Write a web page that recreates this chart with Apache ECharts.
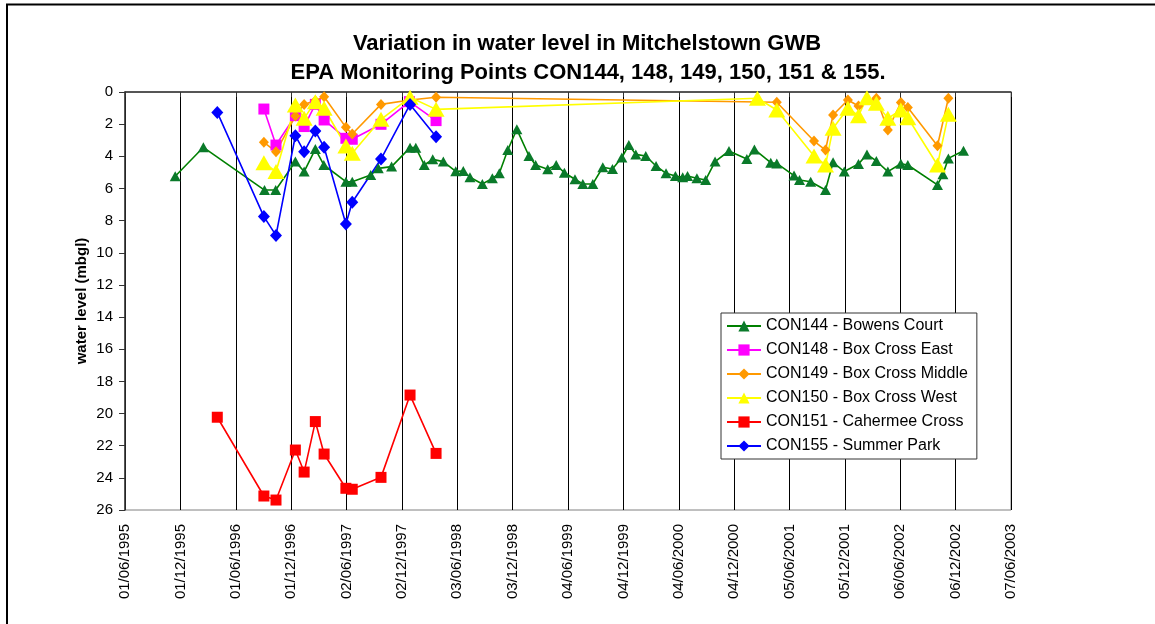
<!DOCTYPE html>
<html>
<head>
<meta charset="utf-8">
<script src="https://cdn.jsdelivr.net/npm/echarts@6/dist/echarts.min.js"></script>
<style>
html,body{margin:0;padding:0;background:#fff;}
#chart{width:1155px;height:624px;}
</style>
</head>
<body>
<div id="chart"></div>
<script>
// ---------------- DATA ----------------
const titleLines = ['Variation in water level in Mitchelstown GWB', 'EPA Monitoring Points CON144, 148, 149, 150, 151 & 155.'];
const yAxisName = 'water level (mbgl)';
const seriesNames = ['CON144 - Bowens Court', 'CON148 - Box Cross East', 'CON149 - Box Cross Middle', 'CON150 - Box Cross West', 'CON151 - Cahermee Cross', 'CON155 - Summer Park'];

const con144Dates = ['1995-11-14','1996-02-15','1996-09-04','1996-10-11','1996-12-15','1997-01-13','1997-02-19','1997-03-19','1997-05-31','1997-06-21','1997-08-21','1997-09-15','1997-10-29','1997-12-29','1998-01-17','1998-02-14','1998-03-14','1998-04-18','1998-05-29','1998-06-23','1998-07-15','1998-08-25','1998-09-27','1998-10-20','1998-11-17','1998-12-17','1999-01-26','1999-02-17','1999-03-29','1999-04-26','1999-05-23','1999-06-27','1999-07-23','1999-08-25','1999-09-27','1999-10-29','1999-11-29','1999-12-22','2000-01-14','2000-02-16','2000-03-21','2000-04-23','2000-05-24','2000-06-17','2000-07-03','2000-08-03','2000-09-01','2000-10-02','2000-11-17','2001-01-15','2001-02-09','2001-04-04','2001-04-24','2001-06-20','2001-07-08','2001-08-14','2001-10-02','2001-10-27','2001-12-03','2002-01-19','2002-02-16','2002-03-19','2002-04-26','2002-06-08','2002-07-01','2002-10-07','2002-10-25','2002-11-12','2003-01-01'];
const con144Values = [5.24,3.44,6.1,6.1,4.33,4.95,3.55,4.54,5.58,5.58,5.16,4.75,4.64,3.46,3.46,4.54,4.19,4.33,4.93,4.91,5.3,5.72,5.37,5.06,3.61,2.32,3.98,4.54,4.81,4.54,5.02,5.43,5.72,5.72,4.68,4.79,4.08,3.3,3.88,3.98,4.6,5.06,5.22,5.31,5.22,5.37,5.47,4.33,3.67,4.17,3.57,4.4,4.44,5.2,5.47,5.58,6.1,4.37,4.95,4.48,3.88,4.29,4.95,4.46,4.54,5.78,5.12,4.13,3.65];

const con148Dates = ['1996-09-02','1996-10-12','1996-12-15','1997-01-13','1997-02-19','1997-03-20','1997-05-31','1997-06-21','1997-09-24','1997-12-27','1998-03-25'];
const con148Values = [1.06,3.3,1.47,2.15,0.77,1.74,2.88,2.94,2.01,0.6,1.78];

const con149Dates = ['1996-09-02','1996-10-12','1996-12-15','1997-01-13','1997-02-19','1997-03-20','1997-05-31','1997-06-21','1997-09-24','1997-12-29','1998-03-25','2001-04-24','2001-08-25','2001-10-02','2001-10-27','2001-12-15','2002-01-19','2002-03-19','2002-04-26','2002-06-08','2002-07-01','2002-10-07','2002-11-12'];
const con149Values = [3.13,3.71,1.5,0.77,0.55,0.29,2.2,2.61,0.77,0.5,0.33,0.64,3.05,3.61,1.43,0.5,0.87,0.39,2.36,0.66,0.97,3.34,0.39];

const con150Dates = ['1996-09-02','1996-10-12','1996-12-15','1997-01-13','1997-02-19','1997-03-20','1997-05-31','1997-06-21','1997-09-24','1997-12-29','1998-03-25','2001-02-19','2001-04-24','2001-08-25','2001-10-02','2001-10-27','2001-12-15','2002-01-19','2002-02-16','2002-03-19','2002-04-26','2002-06-08','2002-07-01','2002-10-07','2002-11-12'];
const con150Values = [4.4,4.95,0.81,1.64,0.6,1.01,3.36,3.81,1.7,0.33,1.08,0.39,1.12,3.98,4.54,2.26,1.01,1.47,0.35,0.7,1.64,1.12,1.6,4.54,1.39];

const con151Dates = ['1996-04-01','1996-09-02','1996-10-12','1996-12-15','1997-01-13','1997-02-19','1997-03-20','1997-05-31','1997-06-21','1997-09-24','1997-12-29','1998-03-25'];
const con151Values = [20.23,25.13,25.38,22.27,23.64,20.5,22.52,24.65,24.71,23.97,18.85,22.48];

const con155Dates = ['1996-04-01','1996-09-02','1996-10-12','1996-12-15','1997-01-13','1997-02-19','1997-03-20','1997-05-31','1997-06-21','1997-09-24','1997-12-29','1998-03-25'];
const con155Values = [1.27,7.75,8.92,2.72,3.71,2.43,3.44,8.21,6.86,4.17,0.77,2.78];

// axis range: 01/06/1995 .. 07/06/2003, step 183 days
const axisStartDate = '1995-06-01';
const axisStepDays = 183;
const axisSteps = 16;
const yMin = 0, yMax = 26, yStep = 2;

// ---------------- BUILD ----------------
function utc(s){ const p = s.split('-').map(Number); return Date.UTC(p[0], p[1]-1, p[2]); }
const BASE = utc(axisStartDate);
function dayOf(s){ return Math.round((utc(s) - BASE) / 86400000); }
function pad(n){ return (n < 10 ? '0' : '') + n; }
function fmtDay(v){
  const d = new Date(BASE + v * 86400000);
  return pad(d.getUTCDate()) + '/' + pad(d.getUTCMonth()+1) + '/' + d.getUTCFullYear();
}
function pairs(dates, vals){ return dates.map((d,i)=>[dayOf(d), vals[i]]); }

const FONT = '"Liberation Sans", Arial, Helvetica, sans-serif';

const styles = [
  {color:'#008000', symbol:'triangle', size:[11,10], marker:'#0a7a2a'},
  {color:'#FF00FF', symbol:'rect', size:[11,11], marker:'#FF00FF'},
  {color:'#FF9900', symbol:'diamond', size:[10,11], marker:'#FF9900'},
  {color:'#FFFF00', symbol:'triangle', size:[17,15], marker:'#FFFF00'},
  {color:'#FF0000', symbol:'rect', size:[11,11], marker:'#FF0000'},
  {color:'#0000FF', symbol:'diamond', size:[12,13], marker:'#0000FF'}
];
const datasets = [
  pairs(con144Dates, con144Values),
  pairs(con148Dates, con148Values),
  pairs(con149Dates, con149Values),
  pairs(con150Dates, con150Values),
  pairs(con151Dates, con151Values),
  pairs(con155Dates, con155Values)
];

const series = datasets.map((data, i) => ({
  name: seriesNames[i],
  type: 'line',
  data: data,
  symbol: styles[i].symbol,
  symbolSize: styles[i].size,
  showAllSymbol: true,
  animation: false,
  lineStyle: {color: styles[i].color, width: 1.6},
  itemStyle: {color: styles[i].marker, borderWidth: 0},
  emphasis: {disabled: true}
}));

const chart = echarts.init(document.getElementById('chart'), null, {renderer:'canvas'});
chart.setOption({
  animation: false,
  backgroundColor: '#ffffff',
  title: [
    {text: titleLines[0], left: 582, top: 28, textAlign: 'center',
     textStyle: {fontFamily: FONT, fontSize: 22, fontWeight: 'bold', color: '#000'}},
    {text: titleLines[1], left: 583, top: 57, textAlign: 'center',
     textStyle: {fontFamily: FONT, fontSize: 22, fontWeight: 'bold', color: '#000'}}
  ],
  grid: {left: 125, top: 92, right: 144, bottom: 114, show: true, borderColor: '#808080', borderWidth: 1, containLabel: false},
  legend: {
    orient: 'vertical',
    left: 721, top: 313,
    padding: [4, 9, 4, 5],
    itemWidth: 34, itemHeight: 14, itemGap: 6,
    backgroundColor: '#fff',
    borderColor: '#333', borderWidth: 1,
    textStyle: {fontFamily: FONT, fontSize: 16, color: '#000', lineHeight: 18},
    data: seriesNames
  },
  xAxis: {
    type: 'value',
    min: 0, max: axisStepDays * axisSteps, interval: axisStepDays,
    axisLine: {show: true, lineStyle: {color: '#333', width: 1.5}},
    axisTick: {show: true, length: 5, lineStyle: {color: '#333'}},
    splitLine: {show: true, lineStyle: {color: '#000', width: 1}},
    axisLabel: {rotate: 90, margin: 14, fontFamily: FONT, fontSize: 15, color: '#000',
      formatter: v => fmtDay(v), showMinLabel: true, showMaxLabel: true, hideOverlap: false}
  },
  yAxis: {
    type: 'value', inverse: true,
    min: yMin, max: yMax, interval: yStep,
    name: yAxisName, nameLocation: 'middle', nameGap: 36, nameMoveOverlap: false,
    nameTextStyle: {fontFamily: FONT, fontSize: 15, fontWeight: 'bold', color: '#000'},
    axisLine: {show: true, lineStyle: {color: '#333', width: 1.5}},
    axisTick: {show: true, length: 6, lineStyle: {color: '#333'}},
    splitLine: {show: false},
    axisLabel: {margin: 12, fontFamily: FONT, fontSize: 15, color: '#000'}
  },
  graphic: [
    {type: 'rect', silent: true, z: 100,
     shape: {x: 7, y: 4.5, width: 1400, height: 800},
     style: {fill: 'none', stroke: '#000', lineWidth: 2}}
  ],
  series: series
});
</script>
</body>
</html>
